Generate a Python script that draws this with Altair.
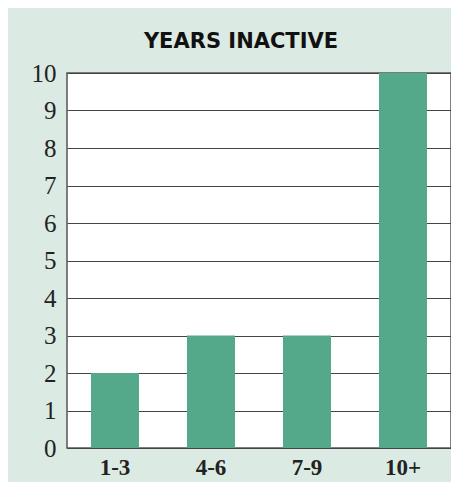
import altair as alt
import pandas as pd

categories = ["1-3", "4-6", "7-9", "10+"]
values = [2, 3, 3, 10]

df = pd.DataFrame({"years": categories, "count": values})

chart = alt.Chart(df).mark_bar(color="#54a98b").encode(
    x=alt.X("years:N", sort=categories,
            scale=alt.Scale(paddingInner=0.5, paddingOuter=0.25),
            axis=alt.Axis(title=None, labelAngle=0, ticks=False, domain=False,
                          labelFont="Liberation Serif", labelFontSize=23,
                          labelFontWeight="bold", labelColor="#222",
                          labelPadding=8)),
    y=alt.Y("count:Q", scale=alt.Scale(domain=[0, 10], nice=False),
            axis=alt.Axis(title=None, values=list(range(11)), ticks=False,
                          domain=False, grid=True, gridColor="#444",
                          gridWidth=1, labelFont="Liberation Serif",
                          labelFontSize=25, labelColor="#222",
                          labelPadding=11)),
).properties(
    width=384,
    height=375,
    padding={"left": 59, "top": 65, "right": 0, "bottom": 34},
    autosize=alt.AutoSizeParams(type="none"),
    background="#dbeae3",
    title=alt.TitleParams("YEARS INACTIVE", font="DejaVu Sans", fontSize=21,
                          fontWeight=900, color="#111", anchor="middle",
                          offset=9, dx=-18),
).configure_view(fill="white", stroke="#555", strokeWidth=1.5)

chart.save("out.html", embed_options={"renderer": "svg", "actions": False})
